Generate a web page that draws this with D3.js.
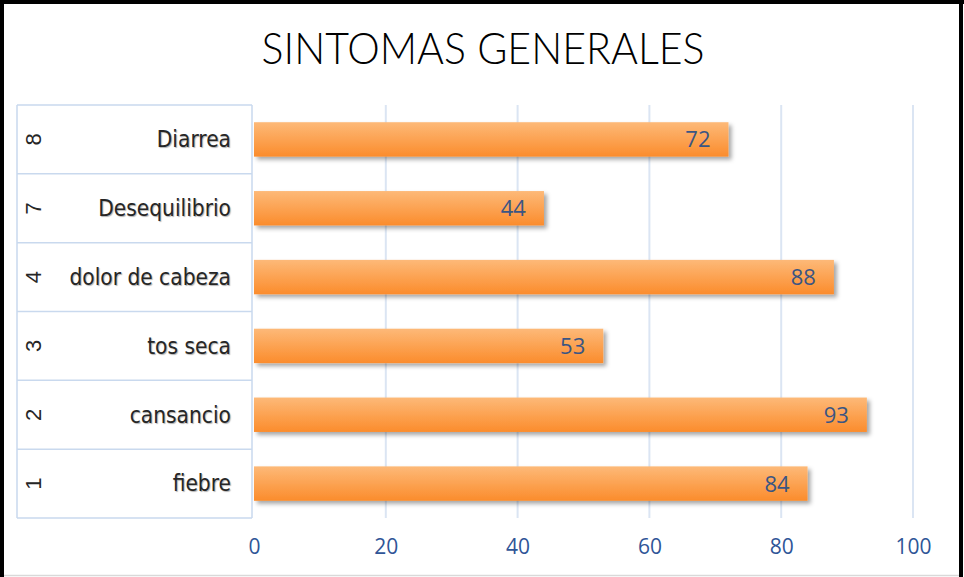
<!DOCTYPE html>
<html>
<head>
<meta charset="utf-8">
<script src="https://cdn.jsdelivr.net/npm/d3@7"></script>
<style>
  body { margin: 0; background: #fff; }
  svg { display: block; }
</style>
</head>
<body>
<svg id="chart"></svg>
<script>
// data (bottom to top)
let codigos = ['1', '2', '3', '4', '7', '8'];
let sintomas = ['fiebre', 'cansancio', 'tos seca', 'dolor de cabeza', 'Desequilibrio', 'Diarrea'];
let valores = [84, 93, 53, 88, 44, 72];
let xTicks = [0, 20, 40, 60, 80, 100];
let titulo = 'SINTOMAS GENERALES';

let width = 964;
let height = 577;
let plotLeft = 254, plotRight = 913, plotTop = 105, plotBottom = 518;
let tableLeft = 17;

let svg = d3.select('#chart').attr('width', width).attr('height', height);

let defs = svg.append('defs');
let grad = defs.append('linearGradient')
    .attr('id', 'barGrad').attr('x1', 0).attr('y1', 0).attr('x2', 0).attr('y2', 1);
grad.append('stop').attr('offset', '0%').attr('stop-color', '#fdb978');
grad.append('stop').attr('offset', '100%').attr('stop-color', '#fb8c2c');

let shadow = defs.append('filter').attr('id', 'shadow')
    .attr('x', '-5%').attr('y', '-20%').attr('width', '115%').attr('height', '160%');
shadow.append('feDropShadow')
    .attr('dx', 3).attr('dy', 3).attr('stdDeviation', 2)
    .attr('flood-color', '#000').attr('flood-opacity', 0.35);

let xScale = d3.scaleLinear().domain([0, 100]).range([plotLeft, plotRight]);
let yScale = d3.scaleBand().domain(sintomas).range([plotBottom, plotTop])
    .paddingInner(0.5).paddingOuter(0.25);
let rowScale = d3.scaleBand().domain(sintomas).range([plotBottom, plotTop]);

// title
svg.append('text')
    .attr('x', 483).attr('y', 64)
    .attr('text-anchor', 'middle')
    .attr('font-family', "Lato, 'Liberation Sans Narrow', sans-serif")
    .attr('font-weight', 300)
    .attr('font-size', 44)
    .attr('textLength', 443).attr('lengthAdjust', 'spacingAndGlyphs')
    .attr('fill', '#000')
    .text(titulo);

// vertical gridlines
svg.append('g').selectAll('line')
    .data(xTicks.slice(1))
    .join('line')
    .attr('x1', d => xScale(d)).attr('x2', d => xScale(d))
    .attr('y1', plotTop).attr('y2', plotBottom)
    .attr('stroke', '#dbe5f3').attr('stroke-width', 2);

// x axis labels
let xAxis = d3.axisBottom(xScale).tickValues(xTicks).tickSize(0).tickPadding(0);
let gx = svg.append('g')
    .attr('transform', `translate(0, ${plotBottom + 21})`)
    .call(xAxis);
gx.select('.domain').remove();
gx.selectAll('text')
    .attr('font-family', "'Open Sans', sans-serif")
    .attr('font-size', 21)
    .attr('fill', '#2f5597');

// category table lines
let table = svg.append('g').attr('stroke', '#c9d9ee').attr('stroke-width', 1.5);
table.selectAll('line.row')
    .data(sintomas)
    .join('line')
    .attr('x1', tableLeft).attr('x2', plotLeft - 2)
    .attr('y1', d => rowScale(d)).attr('y2', d => rowScale(d));
table.append('line')
    .attr('x1', tableLeft).attr('x2', plotLeft - 2)
    .attr('y1', plotBottom).attr('y2', plotBottom);
table.append('line')
    .attr('x1', tableLeft).attr('x2', tableLeft)
    .attr('y1', plotTop).attr('y2', plotBottom);
table.append('line')
    .attr('x1', plotLeft - 2).attr('x2', plotLeft - 2)
    .attr('y1', plotTop).attr('y2', plotBottom);

// category names
svg.append('g').selectAll('text')
    .data(sintomas)
    .join('text')
    .attr('x', 231)
    .attr('y', d => rowScale(d) + rowScale.bandwidth() / 2)
    .attr('dy', '0.35em')
    .attr('text-anchor', 'end')
    .attr('font-family', "'DejaVu Sans Condensed', 'Liberation Sans', sans-serif")
    .attr('font-size', 22.5)
    .attr('fill', '#262626')
    .style('text-shadow', '1px 1px 1px rgba(0,0,0,0.3)')
    .text(d => d);

// rotated codes
svg.append('g').selectAll('text')
    .data(sintomas)
    .join('text')
    .attr('transform', d => `translate(33, ${rowScale(d) + rowScale.bandwidth() / 2}) rotate(-90)`)
    .attr('dy', '0.35em')
    .attr('text-anchor', 'middle')
    .attr('font-family', "'Liberation Sans', sans-serif")
    .attr('font-size', 22)
    .attr('fill', '#262626')
    .text((d, i) => codigos[i]);

// bars
svg.append('g').selectAll('rect')
    .data(sintomas)
    .join('rect')
    .attr('x', xScale(0))
    .attr('y', d => yScale(d))
    .attr('width', (d, i) => xScale(valores[i]) - xScale(0))
    .attr('height', yScale.bandwidth())
    .attr('fill', 'url(#barGrad)')
    .attr('filter', 'url(#shadow)');

// value labels
svg.append('g').selectAll('text')
    .data(sintomas)
    .join('text')
    .attr('x', (d, i) => xScale(valores[i]) - 18)
    .attr('y', d => yScale(d) + yScale.bandwidth() / 2)
    .attr('dy', '0.36em')
    .attr('text-anchor', 'end')
    .attr('font-family', "'Open Sans', sans-serif")
    .attr('font-size', 22)
    .attr('fill', '#3a5583')
    .text((d, i) => valores[i]);

// frame
let frame = svg.append('g');
frame.append('line').attr('x1', 0).attr('x2', 964).attr('y1', 2).attr('y2', 2)
    .attr('stroke', '#000').attr('stroke-width', 4);
frame.append('line').attr('x1', 2).attr('x2', 2).attr('y1', 0).attr('y2', 577)
    .attr('stroke', '#000').attr('stroke-width', 4);
frame.append('line').attr('x1', 961).attr('x2', 961).attr('y1', 0).attr('y2', 577)
    .attr('stroke', '#000').attr('stroke-width', 4);
frame.append('line').attr('x1', 4).attr('x2', 959).attr('y1', 575.5).attr('y2', 575.5)
    .attr('stroke', '#d9d9d9').attr('stroke-width', 1.5);
</script>
</body>
</html>
